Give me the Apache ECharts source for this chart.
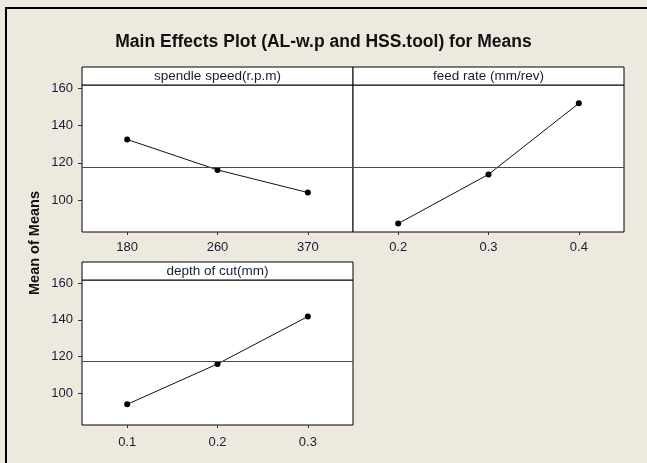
<!DOCTYPE html>
<html>
<head>
<meta charset="utf-8">
<script src="https://cdn.jsdelivr.net/npm/echarts@6/dist/echarts.min.js"></script>
<style>
  html, body { margin: 0; padding: 0; background: #ede9df; }
  #main { width: 647px; height: 463px; }
</style>
</head>
<body>
<div id="main"></div>
<script>
// 数据：各因子水平及均值
var speedLevels = ['180', '260', '370'];
var speedMeans = [132.5, 116.2, 104.1];
var feedLevels = ['0.2', '0.3', '0.4'];
var feedMeans = [87.5, 113.8, 151.8];
var depthLevels = ['0.1', '0.2', '0.3'];
var depthMeans = [94.2, 116.1, 141.8];
var grandMean = 117.6;
var yTicks = [100, 120, 140, 160];
var panelNames = ['spendle speed(r.p.m)', 'feed rate (mm/rev)', 'depth of cut(mm)'];

var txtColor = '#1c1a33';
var fontFam = 'Liberation Sans, Arial, sans-serif';

var oChart = echarts.init(document.getElementById('main'));

// 面板位置
var panels = [
    { left: 82, top: 85, width: 271, height: 147, labelGap: 9 },
    { left: 353, top: 85, width: 271, height: 147, labelGap: 9 },
    { left: 82, top: 280, width: 271, height: 145, labelGap: 11 }
];

function makeX(idx, cats) {
    return {
        type: 'category',
        gridIndex: idx,
        data: cats,
        boundaryGap: true,
        axisLine: { show: false },
        axisTick: { show: true, alignWithLabel: true, length: 3, lineStyle: { color: '#333' } },
        axisLabel: { color: txtColor, fontSize: 13, fontFamily: fontFam, margin: panels[idx].labelGap }
    };
}

function makeY(idx, showLabels) {
    return {
        type: 'value',
        gridIndex: idx,
        min: 83,
        max: 161.6,
        axisLine: { show: false },
        splitLine: { show: false },
        axisTick: { show: showLabels, length: 4, customValues: yTicks, lineStyle: { color: '#333' } },
        axisLabel: { show: showLabels, customValues: yTicks, color: txtColor, fontSize: 13, fontFamily: fontFam, margin: 9 }
    };
}

function makeSeries(idx, vals) {
    return {
        type: 'line',
        xAxisIndex: idx,
        yAxisIndex: idx,
        data: vals,
        symbol: 'circle',
        symbolSize: 6,
        itemStyle: { color: '#000' },
        lineStyle: { color: '#111', width: 1 },
        silent: true,
        markLine: {
            silent: true,
            symbol: 'none',
            label: { show: false },
            lineStyle: { color: '#4a4a4a', width: 1, type: 'solid' },
            data: [{ yAxis: grandMean }]
        }
    };
}

// 外框和面板标题条
var graphics = [
    {
        type: 'rect',
        shape: { x: 6, y: 8, width: 700, height: 500 },
        style: { fill: 'none', stroke: '#000', lineWidth: 2 },
        silent: true
    }
];
panels.forEach(function (p, i) {
    graphics.push({
        type: 'rect',
        shape: { x: p.left, y: p.top - 18, width: p.width, height: 18 },
        style: { fill: '#fff', stroke: '#000', lineWidth: 1 },
        silent: true
    });
    graphics.push({
        type: 'text',
        x: p.left + p.width / 2,
        y: p.top - 9,
        style: {
            text: panelNames[i],
            fill: txtColor,
            font: '13.5px ' + fontFam,
            textAlign: 'center',
            textVerticalAlign: 'middle'
        },
        silent: true
    });
});

var option = {
    backgroundColor: '#ede9df',
    animation: false,
    title: {
        text: 'Main Effects Plot (AL-w.p and HSS.tool) for Means',
        left: 'center',
        top: 28,
        textStyle: { color: '#111', fontSize: 17.5, fontWeight: 'bold', fontFamily: fontFam }
    },
    grid: panels.map(function (p) {
        return {
            left: p.left, top: p.top, width: p.width, height: p.height,
            show: true, backgroundColor: '#fff', borderColor: '#000', borderWidth: 1
        };
    }),
    xAxis: [makeX(0, speedLevels), makeX(1, feedLevels), makeX(2, depthLevels)],
    yAxis: [makeY(0, true), makeY(1, false), makeY(2, true)],
    series: [makeSeries(0, speedMeans), makeSeries(1, feedMeans), makeSeries(2, depthMeans)],
    graphic: graphics.concat([{
        type: 'text',
        x: 35,
        y: 243,
        rotation: Math.PI / 2,
        style: {
            text: 'Mean of Means',
            fill: '#111',
            font: 'bold 14.5px ' + fontFam,
            textAlign: 'center',
            textVerticalAlign: 'middle'
        },
        silent: true
    }])
};
oChart.setOption(option);
</script>
</body>
</html>
